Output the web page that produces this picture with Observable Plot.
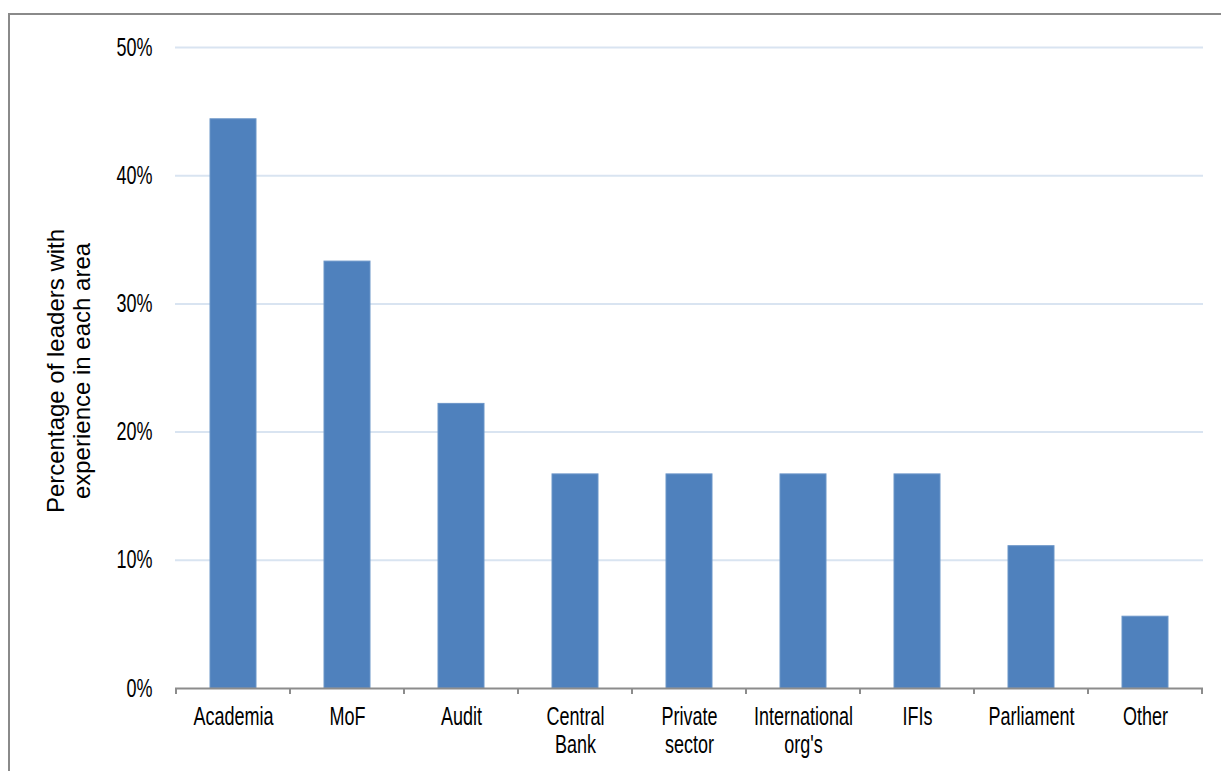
<!DOCTYPE html>
<html>
<head>
<meta charset="utf-8">
<script src="https://cdn.jsdelivr.net/npm/d3@7"></script>
<script src="https://cdn.jsdelivr.net/npm/@observablehq/plot@0.6"></script>
<style>
  html, body { margin: 0; padding: 0; background: #fff; }
  #wrap { position: relative; width: 1221px; height: 771px; overflow: hidden; }
  #frame { position: absolute; left: 8px; top: 13px; width: 1300px; height: 900px;
           border-top: 2px solid #8a8a8a; border-left: 2px solid #8a8a8a; pointer-events: none; }
  #chart { position: absolute; left: 0; top: 0; }
</style>
</head>
<body>
<div id="wrap"><div id="chart"></div><div id="frame"></div></div>
<script>
// Background of public financial management leaders
const categories = ["Academia", "MoF", "Audit", "Central\nBank", "Private\nsector",
                    "International\norg's", "IFIs", "Parliament", "Other"];
const shares = [44.4, 33.3, 22.2, 16.7, 16.7, 16.7, 16.7, 11.1, 5.6];
const yTicks = [0, 10, 20, 30, 40, 50];
const yTitle = "Percentage of leaders with\nexperience in each area";

const data = categories.map((c, i) => ({category: c, share: shares[i]}));

const sans = "'Liberation Sans', Arial, sans-serif";

// Tick marks at the edges of each category band, hanging below the baseline
function bandEdgeTicks(index, scales) {
  const x = scales.x, y = scales.y;
  const bw = typeof x.bandwidth === "function" ? x.bandwidth() : (x.bandwidth || 0);
  const step = x(categories[1]) - x(categories[0]);
  const y0 = y(0);
  const g = d3.create("svg:g").attr("stroke", "#8c8c8c").attr("stroke-width", 2);
  const edges = categories.map(c => x(c) + bw / 2 - step / 2);
  edges.push(x(categories[categories.length - 1]) + bw / 2 + step / 2);
  for (const e of edges) {
    g.append("line").attr("x1", e).attr("x2", e).attr("y1", y0).attr("y2", y0 + 6);
  }
  return g.node();
}

const chart = Plot.plot({
  width: 1221,
  height: 771,
  marginLeft: 175,
  marginRight: 18,
  marginTop: 47,
  marginBottom: 83,
  style: {fontFamily: sans, fontSize: "25px", color: "#000", background: "transparent"},
  x: {domain: categories, paddingInner: 0.6, paddingOuter: 0.3, label: null},
  y: {domain: [0, 50], label: null},
  marks: [
    Plot.ruleY(yTicks.filter(t => t > 0), {stroke: "#d9e4f1", strokeWidth: 2}),
    Plot.barY(data, {x: "category", y: "share", fill: "#4f81bd", stroke: "#6b95c8", strokeWidth: 1}),
    Plot.ruleY([0], {stroke: "#8c8c8c", strokeWidth: 2}),
    bandEdgeTicks,
    Plot.axisY({ticks: yTicks, tickFormat: d => d + "%", tickSize: 0, tickPadding: 23,
                fontSize: 25, label: null}),
    Plot.axisX({tickSize: 0, tickPadding: 17, fontSize: 25, lineHeight: 1.12, label: null}),
    Plot.text([yTitle], {frameAnchor: "left", dx: -107, dy: 3, rotate: -90, textAnchor: "middle",
                         lineAnchor: "middle", lineHeight: 1.08, fontSize: 24,
                         fontFamily: sans, fill: "#000"})
  ]
});

// Narrow lettering for the tick labels: squeeze each label horizontally about its anchor
d3.select(chart).selectAll("g[aria-label$='tick label'] text").each(function () {
  const x = this.getAttribute("x");
  let tr = this.getAttribute("transform") || "";
  if (x !== null && !isNaN(+x)) {
    tr += ` translate(${+x},0)`;
    this.removeAttribute("x");
  }
  this.setAttribute("transform", tr + " scale(0.72,1)");
});

document.getElementById("chart").appendChild(chart);
</script>
</body>
</html>
